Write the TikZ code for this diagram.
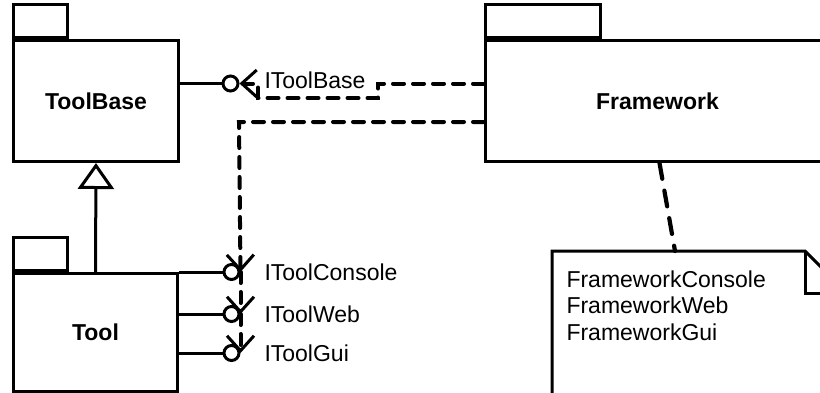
\documentclass[tikz,border=0pt]{standalone}
\usepackage{fontspec}
\setmainfont{Liberation Sans}
\usetikzlibrary{arrows.meta}

\begin{document}
\begin{tikzpicture}[x=1pt, y=-1pt, line width=3pt,
  pkgbody/.style={draw, rectangle, inner sep=0pt, anchor=north west,
    font=\fontsize{23}{27}\selectfont\bfseries},
  pkgtab/.style={draw, rectangle, inner sep=0pt, anchor=south west,
    minimum height=33pt},
  ball/.style={draw, circle, fill=white, inner sep=0pt, minimum size=15pt},
  lbl/.style={anchor=base west, inner sep=0pt, font=\fontsize{23}{27}\selectfont},
  dep/.style={line width=4pt, line cap=round,
    dash pattern=on 11pt off 9pt,
    -{Straight Barb[length=15pt, width=27pt, line width=3pt]}},
  notelink/.style={line width=4.2pt, line cap=round, dash pattern=on 16pt off 12pt},
  generalize/.style={-{Triangle[open, length=26pt, width=36pt, line width=3pt]}}]

\useasboundingbox (0,0) rectangle (820,392);

% packages: body with its name, tab on top
\node[pkgbody, minimum width=165pt, minimum height=121pt] (toolbase) at (12,39) {ToolBase};
\node[pkgtab, minimum width=54pt] (toolbasetab) at (toolbase.north west) {};

\node[pkgbody, minimum width=164pt, minimum height=118pt] (tool) at (12,272) {Tool};
\node[pkgtab, minimum width=54pt] (tooltab) at (tool.north west) {};

\node[pkgbody, minimum width=344pt, minimum height=121pt] (framework) at (484,39) {Framework};
\node[pkgtab, minimum width=115pt] (frameworktab) at (framework.north west) {};

% note with a folded corner
\draw (552,400) -- (552,251) -- (805,251) -- (846,292) -- (846,400);
\draw (805,251) -- (805,293) -- (846,293);
\coordinate (notetop) at (675,251);
\node[lbl] (fwconsole) at (565,287) {FrameworkConsole};
\node[lbl] (fwweb) at (565,313.5) {FrameworkWeb};
\node[lbl] (fwgui) at (565,340.5) {FrameworkGui};

% provided interfaces (lollipops)
\node[ball] (bBase) at (230.5,83.5) {};
\node[ball] (bConsole) at (231.5,272) {};
\node[ball] (bWeb) at (231.5,314) {};
\node[ball] (bGui) at (231.5,353) {};

\draw (toolbase.east |- bBase) -- (bBase.west);
\draw (tool.north east) -- (bConsole.west);
\draw (tool.east |- bWeb) -- (bWeb.west);
\draw (tool.east |- bGui) -- (bGui.west);

\node[lbl] (lBase) at (263,88) {IToolBase};
\node[lbl] (lConsole) at (263,280) {IToolConsole};
\node[lbl] (lWeb) at (263,322) {IToolWeb};
\node[lbl] (lGui) at (263,361) {IToolGui};

% generalization Tool -> ToolBase
\draw[generalize] (tool.north) -- (toolbase.south);

% usage dependencies of Framework
\coordinate (turnA) at (378,83.5);
\coordinate (turnB) at (378,98);
\coordinate (turnC) at (258,98);
\coordinate (turnD) at (258,83.5);
\draw[dep] (framework.west |- bBase) -- (turnA) -- (turnB) -- (turnC) -- (turnD) -- (bBase.east);

\coordinate (dropturn) at (239,122);
\draw[dep] (framework.west |- dropturn) -- (dropturn) -- (bConsole.east);
\draw[dep] (bConsole.east) -- (bWeb.east);
\draw[dep] (bWeb.east) -- (bGui.east);

% Framework to note
\draw[notelink] ([xshift=2pt]framework.south) -- (notetop);

\end{tikzpicture}
\end{document}
